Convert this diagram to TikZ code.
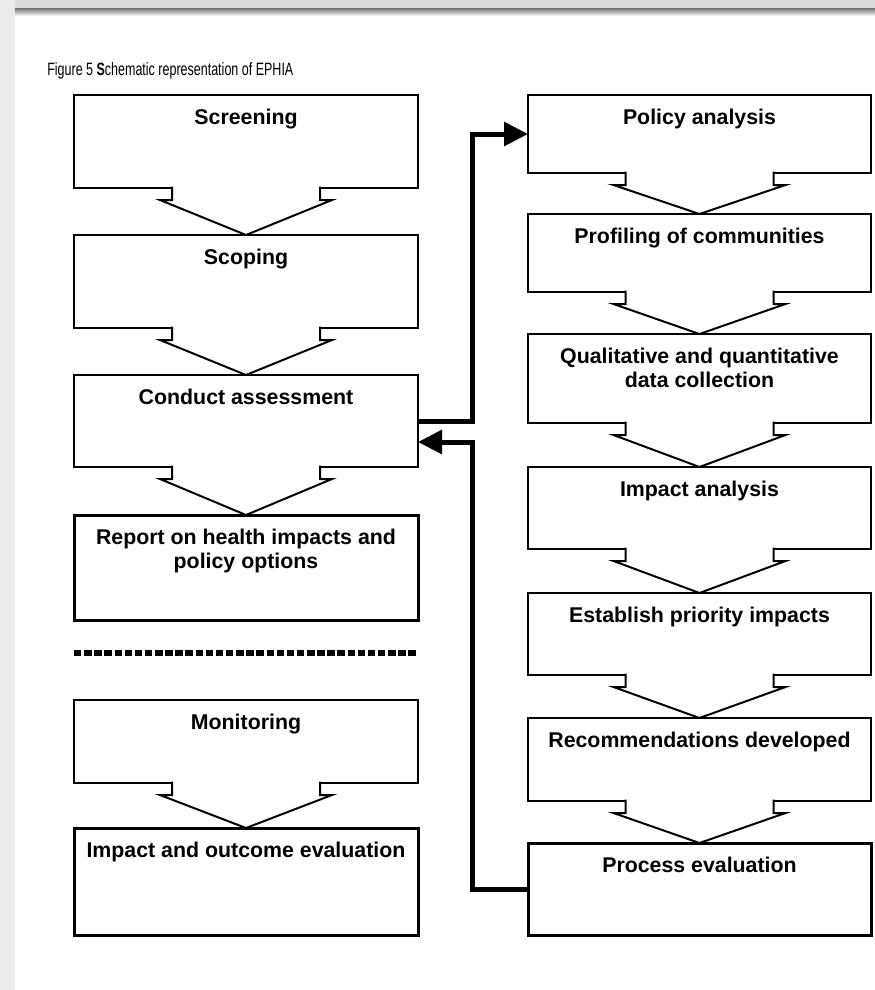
\documentclass[tikz,border=0pt]{standalone}
\usepackage{fontspec}
\setmainfont{Liberation Sans}
\newfontfamily\capfont[FakeStretch=0.7]{Liberation Sans}
\usetikzlibrary{arrows.meta,calc}
\definecolor{stripgray}{HTML}{EBEBEB}
\definecolor{bargray}{HTML}{DCDCDC}
\definecolor{bardark}{HTML}{6E6E6E}
\newcommand\mkbox[7]{%
  \node[#1, minimum width={(#5-#3)*0.75pt}, minimum height={(#6-#4)*0.75pt}] (#2) at (#3,#4) {};
  \node[lbl] (#2-t) at ($(#2.north)+(0,13.5)$) {#7};}
\newcommand\mkchev[2]{%
  \draw[chev] ($(#1.south)+(-74,-1.5)$) -- ($(#1.south)+(-74,12)$) -- ($(#1.south)+(-86,12)$)
    -- (#2.north) -- ($(#1.south)+(86,12)$) -- ($(#1.south)+(74,12)$) -- ($(#1.south)+(74,-1.5)$);}
\begin{document}
\begin{tikzpicture}[x=0.75pt,y=-0.75pt,
  box/.style={draw, line width=1.5pt, anchor=north west, inner sep=0, outer sep=0},
  thickbox/.style={box, line width=2.25pt},
  lbl/.style={font=\fontsize{16}{18}\selectfont\bfseries, align=center, inner sep=0, anchor=north},
  chev/.style={draw, fill=white, line width=1.5pt, line join=miter},
  bigarrow/.style={line width=3.75pt, -{Triangle[length=18pt,width=17.5pt]}}
]
\useasboundingbox (0,0) rectangle (875,990);
\fill[white] (0,0) rectangle (875,990);
\fill[stripgray] (0,0) rectangle (15,990);
\fill[bargray] (15,0) rectangle (875,8);
\shade[top color=bardark, bottom color=white] (15,8) rectangle (875,16);

\node[anchor=base west, inner sep=0, font=\capfont\fontsize{13.4}{15}\selectfont] (cap) at (47,75)
  {Figure 5 {\bfseries S}chematic representation of EPHIA};

% left column
\mkbox{box}{S1}{74}{95}{418}{188}{Screening}
\mkbox{box}{S2}{74}{235}{418}{328}{Scoping}
\mkbox{box}{S3}{74}{375}{418}{467}{Conduct assessment}
\mkbox{thickbox}{S4}{74}{515}{418}{620}{Report on health impacts and\\policy options}
\mkbox{box}{S5}{74}{700}{418}{783}{Monitoring}
\mkbox{thickbox}{S6}{74}{828}{418}{935}{Impact and outcome evaluation}

% right column
\mkbox{box}{R1}{528}{95}{871}{173}{Policy analysis}
\mkbox{box}{R2}{528}{214}{871}{292}{Profiling of communities}
\mkbox{box}{R3}{528}{334}{871}{423}{Qualitative and quantitative\\data collection}
\mkbox{box}{R4}{528}{467}{871}{549}{Impact analysis}
\mkbox{box}{R5}{528}{593}{871}{675}{Establish priority impacts}
\mkbox{box}{R6}{528}{718}{871}{801}{Recommendations developed}
\mkbox{thickbox}{R7}{528}{843}{871}{935}{Process evaluation}

% chevrons
\mkchev{S1}{S2}
\mkchev{S2}{S3}
\mkchev{S3}{S4}
\mkchev{S5}{S6}
\mkchev{R1}{R2}
\mkchev{R2}{R3}
\mkchev{R3}{R4}
\mkchev{R4}{R5}
\mkchev{R5}{R6}
\mkchev{R6}{R7}

% dotted separator
\draw[line width=4.5pt, dash pattern=on 5.6pt off 2pt] (74,653) -- (418,653);

% thick arrows
\coordinate (up) at (472,421);
\draw[bigarrow] (S3.east) -- (up) |- (R1.west);
\coordinate (dn) at (472,442);
\draw[bigarrow] (R7.west) -| (dn) -- (S3.east |- dn);
\end{tikzpicture}
\end{document}
